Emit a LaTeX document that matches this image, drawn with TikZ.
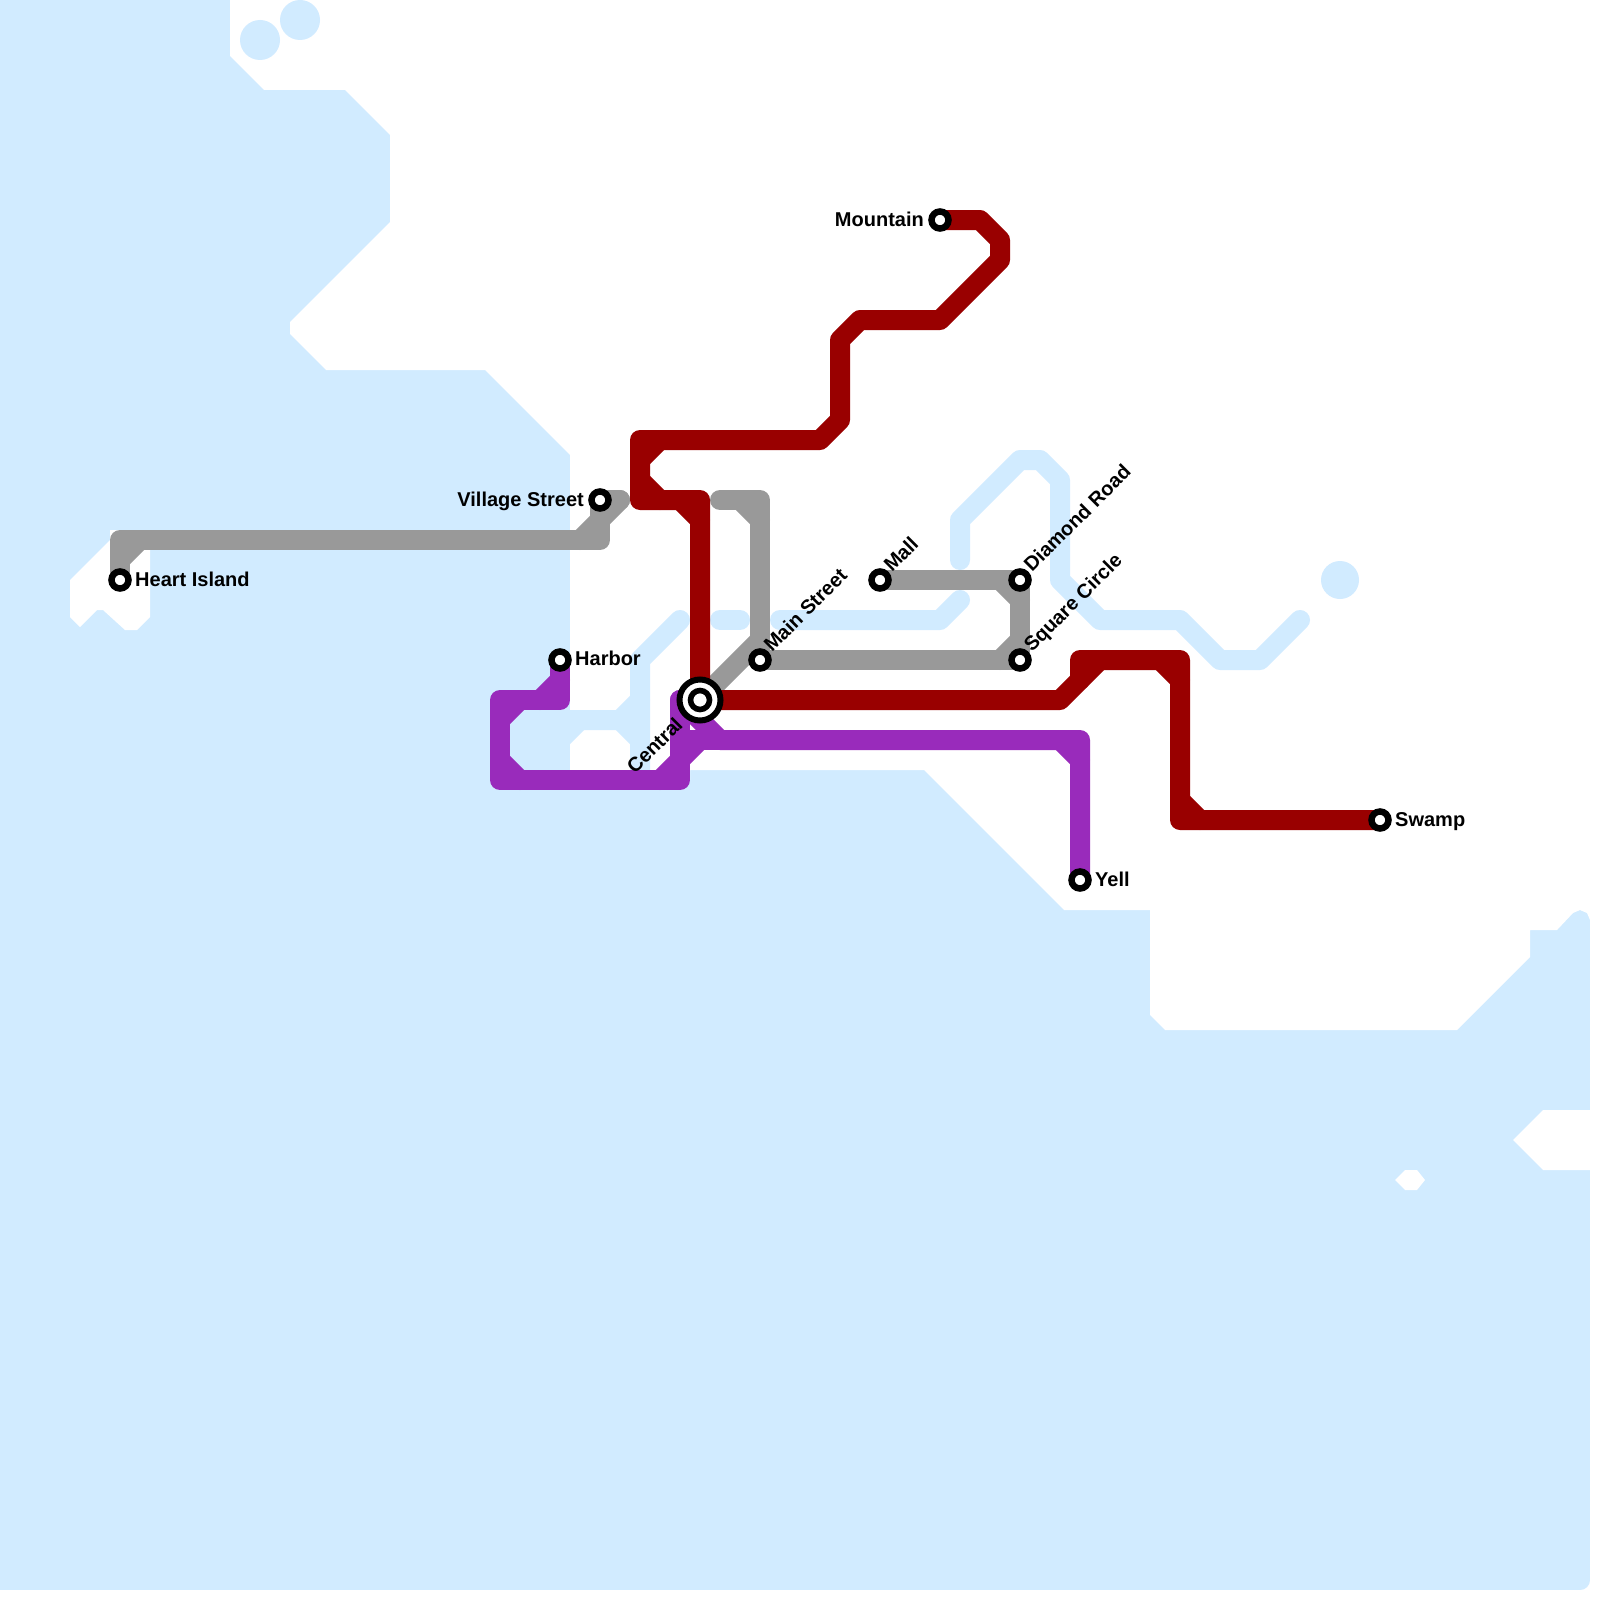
\documentclass[tikz,border=0pt]{standalone}
\usepackage{fontspec}
\setmainfont{Liberation Sans}
\definecolor{water}{RGB}{209,235,255}
\definecolor{redline}{RGB}{153,0,0}
\definecolor{grayline}{RGB}{153,153,153}
\definecolor{purpleline}{RGB}{153,43,187}
\begin{document}
\begin{tikzpicture}[x=1pt,y=-1pt,
  route/.style={line width=20pt,line cap=round,line join=round},
  river/.style={route,draw=water},
  stn/.style={circle,draw=black,fill=white,line width=6.5pt,minimum size=17pt,inner sep=0pt},
  hubouter/.style={circle,draw=black,fill=white,line width=6pt,minimum size=41pt,inner sep=0pt},
  hubinner/.style={circle,draw=black,fill=white,line width=5.6pt,minimum size=19pt,inner sep=0pt},
  lbl/.style={font=\bfseries\fontsize{20}{22}\selectfont,inner sep=0pt,text=black},
]
\useasboundingbox (0,0) rectangle (1600,1600);
\fill[white] (0,0) rectangle (1600,1600);
\begin{scope}
\clip (0,0) rectangle (1600,1600);
% water
\fill[water,rounded corners=10pt] (-10,-10) rectangle (1590,1590);
% land
\fill[white] (230,-20) -- (230,56) -- (264,90) -- (345,90) -- (390,135) -- (390,222)
  -- (290,322) -- (290,334) -- (326,370) -- (485,370) -- (570,455) -- (570,780)
  -- (690,780) -- (690,770) -- (924,770) -- (1064,910) -- (1150,910) -- (1150,1015)
  -- (1165,1030) -- (1457,1030) -- (1530,957) -- (1530,930) -- (1557,930) -- (1573,913)
  -- (1580,910) -- (1587,913) -- (1590,920) -- (1610,920) -- (1610,-20) -- cycle;
\fill[white] (110,530) rectangle (575,550);
\fill[white] (70,580) -- (110,540) -- (150,540) -- (150,617) -- (137,630) -- (125,630)
  -- (103,610) -- (97,610) -- (80,627) -- (70,617) -- cycle;
\fill[white] (1610,1110) -- (1543,1110) -- (1513,1140) -- (1543,1170) -- (1610,1170) -- cycle;
\fill[white] (1395,1180) -- (1405,1170) -- (1417,1170) -- (1425,1180) -- (1417,1190) -- (1405,1190) -- cycle;
\fill[white] (1590,0) rectangle (1600,1600);
\fill[white] (0,1590) rectangle (1600,1600);
\end{scope}
% ponds
\fill[water] (260,40) circle[radius=20pt];
\fill[water] (300,20) circle[radius=20pt];
\fill[water] (1340,580) circle[radius=19pt];
% rivers
\draw[river] (680,620) -- (640,660) -- (640,785);
\draw[river] (560,720) -- (620,720) -- (640,700);
\draw[river] (620,720) -- (640,740);
\draw[river] (560,740) -- (580,720);
\draw[river] (720,620) -- (740,620);
\draw[river] (780,620) -- (940,620) -- (960,600);
\draw[river] (960,560) -- (960,520) -- (1020,460) -- (1040,460) -- (1060,480) -- (1060,580)
  -- (1100,620) -- (1180,620) -- (1220,660) -- (1260,660) -- (1300,620);
% stations
\coordinate (heart) at (120,580);
\coordinate (village) at (600,500);
\coordinate (harbor) at (560,660);
\coordinate (central) at (700,700);
\coordinate (mainst) at (760,660);
\coordinate (mall) at (880,580);
\coordinate (diamond) at (1020,580);
\coordinate (square) at (1020,660);
\coordinate (mountain) at (940,220);
\coordinate (swamp) at (1380,820);
\coordinate (yell) at (1080,880);
% gray line
\draw[route,grayline] (heart) -- (120,540) -- (600,540) -- (village) -- (620,500);
\draw[route,grayline] (580,540) -- (600,520) -- (620,500);
\draw[route,grayline] (120,560) -- (140,540);
\draw[route,grayline] (720,500) -- (760,500) -- (mainst) -- (square) -- (diamond) -- (mall);
\draw[route,grayline] (740,500) -- (760,520);
\draw[route,grayline] (760,640) -- (central);
\draw[route,grayline] (1000,580) -- (1020,600);
\draw[route,grayline] (1020,640) -- (1000,660);
% purple line
\draw[route,purpleline] (harbor) -- (560,700) -- (500,700) -- (500,780) -- (680,780) -- (680,700);
\draw[route,purpleline] (560,680) -- (540,700);
\draw[route,purpleline] (520,700) -- (500,720);
\draw[route,purpleline] (500,760) -- (520,780);
\draw[route,purpleline] (660,780) -- (680,760) -- (700,740);
\draw[route,purpleline] (680,740) -- (720,740);
\draw[route,purpleline] (680,700) -- (720,740) -- (1080,740) -- (yell);
\draw[route,purpleline] (1060,740) -- (1080,760);
% red line
\draw[route,redline] (mountain) -- (980,220) -- (1000,240) -- (1000,260) -- (940,320)
  -- (860,320) -- (840,340) -- (840,420) -- (820,440) -- (640,440) -- (640,500)
  -- (700,500) -- (central) -- (1060,700) -- (1080,680) -- (1080,660) -- (1180,660)
  -- (1180,820) -- (swamp);
\draw[route,redline] (660,440) -- (640,460);
\draw[route,redline] (640,480) -- (660,500);
\draw[route,redline] (680,500) -- (700,520);
\draw[route,redline] (1080,680) -- (1100,660);
\draw[route,redline] (1160,660) -- (1180,680);
\draw[route,redline] (1180,800) -- (1200,820);
% station markers
\node[stn] (sheart) at (heart) {};
\node[stn] (svillage) at (village) {};
\node[stn] (sharbor) at (harbor) {};
\node[stn] (smainst) at (mainst) {};
\node[stn] (small) at (mall) {};
\node[stn] (sdiamond) at (diamond) {};
\node[stn] (ssquare) at (square) {};
\node[stn] (smountain) at (mountain) {};
\node[stn] (sswamp) at (swamp) {};
\node[stn] (syell) at (yell) {};
\node[hubouter] (scentral) at (central) {};
\node[hubinner] (scentralin) at (central) {};
% labels
\node[lbl,anchor=base west] (lheart) at (135,586) {Heart Island};
\node[lbl,anchor=base east] (lvillage) at (584,506) {Village Street};
\node[lbl,anchor=base west] (lharbor) at (575,665) {Harbor};
\node[lbl,anchor=base east] (lmountain) at (924,226) {Mountain};
\node[lbl,anchor=base west] (lswamp) at (1395,826) {Swamp};
\node[lbl,anchor=base west] (lyell) at (1095,886) {Yell};
\node[lbl,anchor=base west,rotate=45] (lmainst) at (772,653) {Main Street};
\node[lbl,anchor=base west,rotate=45] (lmall) at (892,573) {Mall};
\node[lbl,anchor=base west,rotate=45] (ldiamond) at (1032,573) {Diamond Road};
\node[lbl,anchor=base west,rotate=45] (lsquare) at (1032,653) {Square Circle};
\node[lbl,anchor=base east,rotate=45] (lcentral) at (684,726) {Central};
\end{tikzpicture}
\end{document}
